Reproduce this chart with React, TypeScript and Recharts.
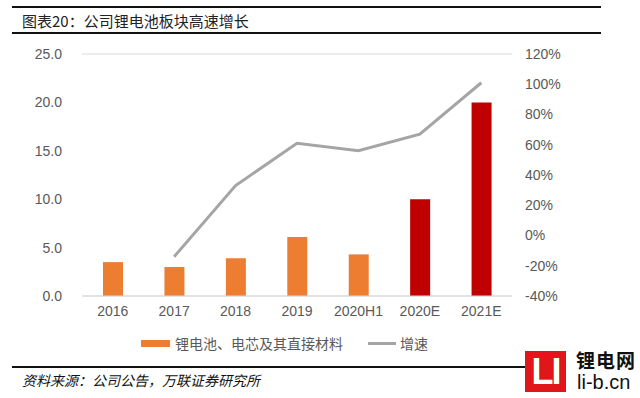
import { ComposedChart, Bar, Line, Cell, XAxis, YAxis, CartesianGrid } from 'recharts';

const categories = ['2016', '2017', '2018', '2019', '2020H1', '2020E', '2021E'];
const revenue = [3.5, 3.0, 3.9, 6.1, 4.3, 10.0, 20.0];
const growth = [null, -14, 33, 61, 56, 67, 101];
const leftTicks = [0, 5, 10, 15, 20, 25];
const rightTicks = [-40, -20, 0, 20, 40, 60, 80, 100, 120];

const data = categories.map((c, i) => ({ name: c, revenue: revenue[i], growth: growth[i] }));

const FONT = '"Liberation Sans", Arial, sans-serif';
const CJK = '"Noto Sans CJK SC", sans-serif';
const tickStyle = { fill: '#595959', fontSize: 14, fontFamily: FONT };

function LegendBox() {
  return (
    <div style={{ position: 'absolute', left: 141, top: 333, display: 'flex', alignItems: 'center', fontFamily: CJK, fontSize: 14, color: '#595959' }}>
      <span style={{ width: 29, height: 7, background: '#ED7D31', display: 'inline-block', marginRight: 5 }} />
      <span>锂电池、电芯及其直接材料</span>
      <span style={{ width: 28, height: 3, background: '#A5A5A5', display: 'inline-block', marginLeft: 25, marginRight: 4 }} />
      <span>增速</span>
    </div>
  );
}

export default function App() {
  return (
    <div style={{ position: 'absolute', left: 0, top: 0, width: 640, height: 398, background: '#fff', overflow: 'hidden' }}>
      <div style={{ position: 'absolute', left: 12, top: 6, width: 589, height: 2, background: '#111' }} />
      <div style={{ position: 'absolute', left: 22, top: 10, fontFamily: CJK, fontSize: 15, color: '#222' }}>
        图表20：公司锂电池板块高速增长
      </div>
      <div style={{ position: 'absolute', left: 12, top: 32, width: 589, height: 2, background: '#111' }} />

      <div style={{ position: 'absolute', left: 0, top: 0 }}>
        <ComposedChart width={640} height={398} data={data} margin={{ top: 54, right: 68, bottom: 72, left: 22 }}>
          <CartesianGrid vertical={false} stroke="#d9d9d9" />
          <XAxis
            dataKey="name"
            tickLine={false}
            axisLine={{ stroke: '#d9d9d9' }}
            tick={tickStyle}
            tickMargin={4}
            height={30}
            interval={0}
          />
          <YAxis
            yAxisId="left"
            domain={[0, 25]}
            ticks={leftTicks}
            width={60}
            axisLine={false}
            tickLine={false}
            tickMargin={14}
            tick={tickStyle}
            tickFormatter={(v: number) => v.toFixed(1)}
          />
          <YAxis
            yAxisId="right"
            orientation="right"
            domain={[-40, 120]}
            ticks={rightTicks}
            width={60}
            axisLine={false}
            tickLine={false}
            tickMargin={7}
            tick={{ ...tickStyle, textAnchor: 'start' }}
            tickFormatter={(v: number) => `${v}%`}
          />
          <Bar yAxisId="left" dataKey="revenue" barSize={20} isAnimationActive={false}>
            {data.map((d) => (
              <Cell key={d.name} fill={d.name.endsWith('E') ? '#C00000' : '#ED7D31'} />
            ))}
          </Bar>
          <Line
            yAxisId="right"
            type="linear"
            dataKey="growth"
            stroke="#A5A5A5"
            strokeWidth={3}
            dot={false}
            activeDot={false}
            connectNulls={false}
            isAnimationActive={false}
          />
        </ComposedChart>
      </div>

      <LegendBox />

      <div style={{ position: 'absolute', left: 12, top: 366, width: 514, height: 2, background: '#111' }} />
      <div style={{ position: 'absolute', left: 22, top: 370, fontFamily: CJK, fontSize: 14, fontStyle: 'italic', color: '#111' }}>
        资料来源：公司公告，万联证券研究所
      </div>

      <div style={{ position: 'absolute', left: 525, top: 351, width: 41, height: 41, background: '#E0161B', color: '#fff', fontFamily: FONT, fontWeight: 'bold', fontSize: 36, lineHeight: '41px', textAlign: 'center', letterSpacing: -2 }}>
        LI
      </div>
      <div style={{ position: 'absolute', left: 576, top: 349, fontFamily: CJK, fontWeight: 'bold', fontSize: 19, color: '#111', letterSpacing: 1, lineHeight: '22px' }}>
        锂电网
      </div>
      <div style={{ position: 'absolute', left: 577, top: 371, fontFamily: FONT, fontSize: 20, color: '#111', lineHeight: '22px' }}>
        li-b.cn
      </div>
    </div>
  );
}
